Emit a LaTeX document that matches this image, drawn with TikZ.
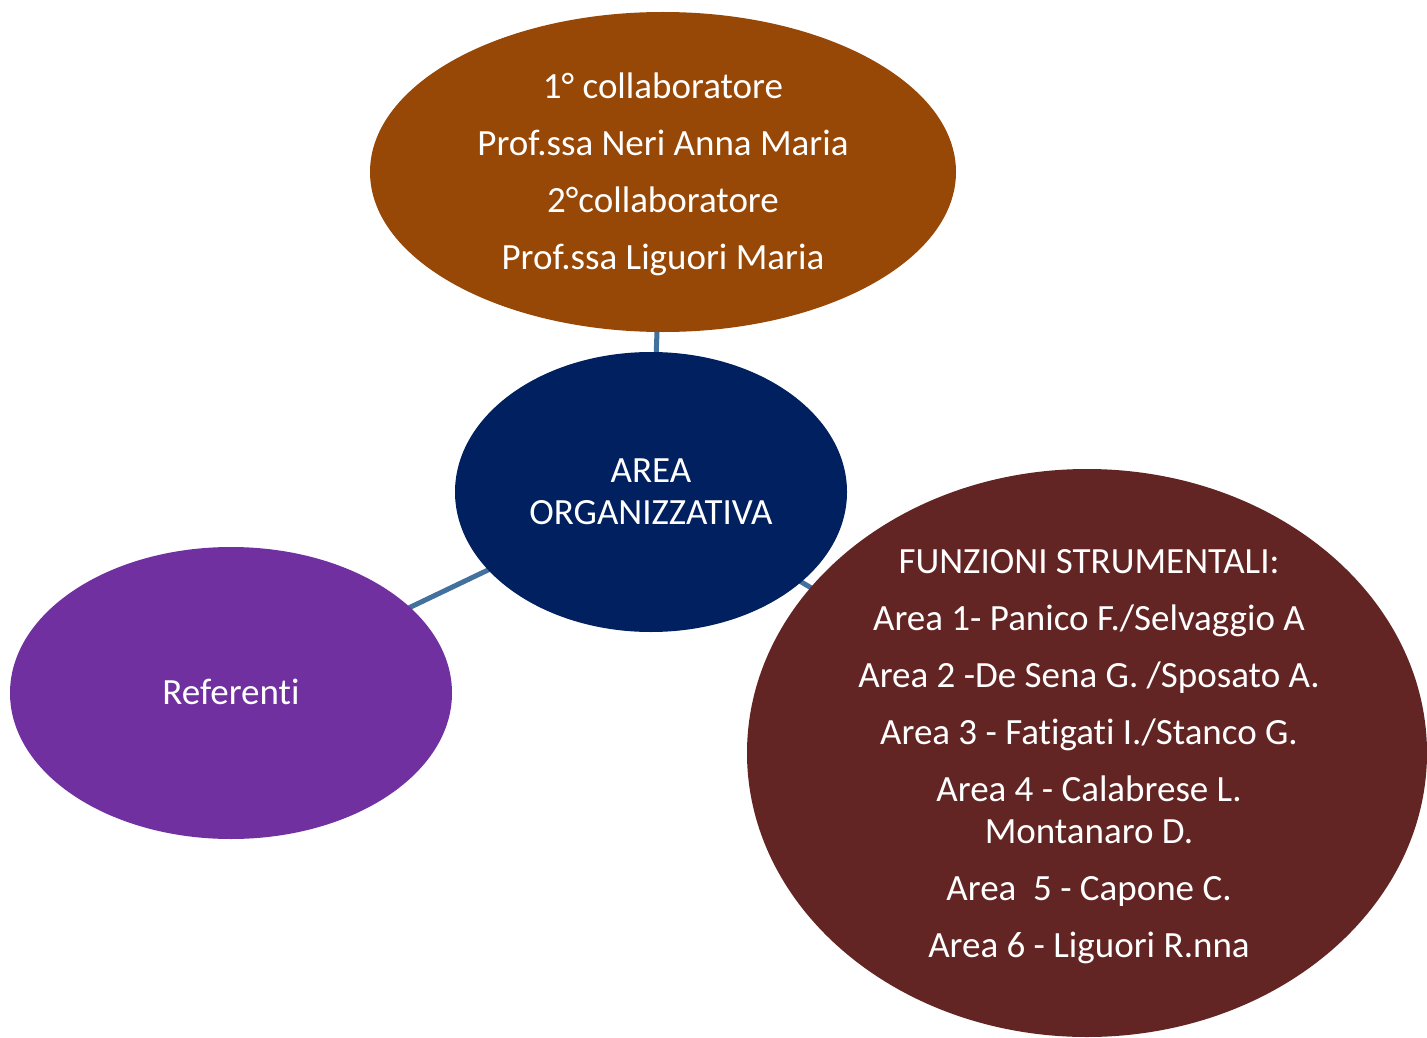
\documentclass[tikz,border=0pt]{standalone}
\usepackage{fontspec}
\setmainfont{Carlito}[Ligatures=NoCommon]
\usetikzlibrary{shapes.geometric}
\definecolor{cbrown}{HTML}{974706}
\definecolor{cnavy}{HTML}{002060}
\definecolor{cpurple}{HTML}{7030A0}
\definecolor{cmaroon}{HTML}{632523}
\definecolor{clink}{HTML}{41719C}
\tikzset{
  bubble/.style={ellipse, draw=none, inner sep=0pt},
  label/.style={inner sep=0pt, text=white, align=center, anchor=base,
    font=\fontsize{37}{42}\selectfont},
  link/.style={draw=clink, line width=5pt}
}
\begin{document}
\begin{tikzpicture}[x=1pt,y=-1pt]
\useasboundingbox[fill=white] (0,0) rectangle (1427,1038);
\coordinate (cC) at (651,492);
\coordinate (cT) at (663,172);
\coordinate (cL) at (231,693);
\coordinate (cR) at (1087,753);
\draw[link] (cC) -- (cT);
\draw[link] (cC) -- (cL);
\draw[link] (cC) -- (cR);
\node[bubble, fill=cbrown, minimum width=586pt, minimum height=320pt] (top) at (cT) {};
\node[bubble, fill=cnavy, minimum width=392pt, minimum height=280pt] (center) at (cC) {};
\node[bubble, fill=cpurple, minimum width=442pt, minimum height=292pt] (left) at (cL) {};
\node[bubble, fill=cmaroon, minimum width=680pt, minimum height=568pt] (right) at (cR) {};
\node[label] (ttop) at (663,269) {1° collaboratore\\[15pt]Prof.ssa Neri Anna Maria\\[15pt]2°collaboratore\\[15pt]Prof.ssa Liguori Maria};
\node[label] (tcenter) at (651,524) {AREA\\ORGANIZZATIVA};
\node[label] (tleft) at (231,704) {Referenti};
\node[label] (tright) at (1089,957) {FUNZIONI STRUMENTALI:\\[15pt]Area 1- Panico F./Selvaggio A\\[15pt]Area 2 -De Sena G. /Sposato A.\\[15pt]Area 3 - Fatigati I./Stanco G.\\[15pt]Area 4 - Calabrese L.\\Montanaro D.\\[15pt]Area\ \ 5 - Capone C.\\[15pt]Area 6 - Liguori R.nna};
\end{tikzpicture}
\end{document}
